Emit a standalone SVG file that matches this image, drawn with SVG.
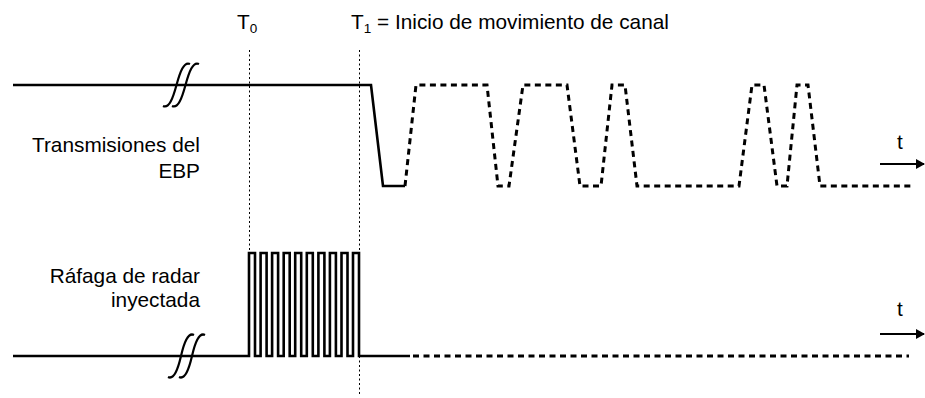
<svg xmlns="http://www.w3.org/2000/svg" width="925" height="398" viewBox="0 0 925 398">
<style>
.lbl{font-family:"Liberation Sans",Arial,sans-serif;font-size:20.8px;fill:#000}
.sub{font-family:"Liberation Sans",Arial,sans-serif;font-size:13.5px;fill:#000}
.solid{fill:none;stroke:#000;stroke-width:2.6;stroke-linejoin:miter}
.dash{fill:none;stroke:#000;stroke-width:3;stroke-dasharray:6 4.5}
.guide{fill:none;stroke:#000;stroke-width:1;stroke-dasharray:2 2.5}
.brk{fill:none;stroke:#000;stroke-width:2.2}
.arr{fill:none;stroke:#000;stroke-width:2.2}
</style>
<defs>
<marker id="ah" markerWidth="10" markerHeight="10" refX="8" refY="5" orient="auto" markerUnits="userSpaceOnUse">
<path d="M0,0 L9,5 L0,10 Z" fill="#000"/>
</marker>
</defs>
<g id="guides">
<line class="guide" x1="249.5" y1="50" x2="249.5" y2="253"/>
<line class="guide" x1="359.5" y1="50" x2="359.5" y2="396"/>
</g>
<g id="labels-time">
<text class="lbl" x="237" y="29">T<tspan class="sub" dy="4">0</tspan></text>
<text class="lbl" x="351" y="29">T<tspan class="sub" dy="4">1</tspan><tspan dy="-4"> = Inicio de movimiento de canal</tspan></text>
</g>
<g id="ebp">
<text class="lbl" x="200" y="152" text-anchor="end">Transmisiones del</text>
<text class="lbl" x="200" y="178" text-anchor="end">EBP</text>
<path class="solid" d="M13,85 L371,85 L383,186 L405,186"/>
<path class="dash" d="M405,186 L416,85 L487,85 L498,186 L509,186 L523,85 L567,85 L580,186 L601,186 L612,85 L625,85 L637,186 L739,186 L752,85 L764,85 L777,186 L787,186 L797,85 L808,85 L820,186 L912,186"/>
<path class="brk" d="M163,106 C169,109 173,98 176.5,85 C180,72 184,61 190,64"/>
<path class="brk" d="M172,106 C178,109 182,98 185.5,85 C189,72 193,61 199,64"/>
<text class="lbl" x="897" y="149">t</text>
<line class="arr" x1="880" y1="164" x2="924" y2="164" marker-end="url(#ah)"/>
</g>
<g id="radar">
<text class="lbl" x="200" y="283" text-anchor="end">Ráfaga de radar</text>
<text class="lbl" x="200" y="307" text-anchor="end">inyectada</text>
<path class="solid" d="M13,356 L249,356 L249,253 L255,253 L255,356 L260.6,356 L260.6,253 L266.6,253 L266.6,356 L272.1,356 L272.1,253 L278.1,253 L278.1,356 L283.7,356 L283.7,253 L289.7,253 L289.7,356 L295.2,356 L295.2,253 L301.2,253 L301.2,356 L306.8,356 L306.8,253 L312.8,253 L312.8,356 L318.4,356 L318.4,253 L324.4,253 L324.4,356 L329.9,356 L329.9,253 L335.9,253 L335.9,356 L341.5,356 L341.5,253 L347.5,253 L347.5,356 L353,356 L353,253 L359,253 L359,356 L410,356"/>
<path class="dash" d="M413,356 L909,356"/>
<path class="brk" d="M168,377 C174,380 178,369 181,356 C184,343 188,332 194,335"/>
<path class="brk" d="M179,377 C185,380 189,369 192,356 C195,343 199,332 205,335"/>
<text class="lbl" x="897" y="316">t</text>
<line class="arr" x1="880" y1="334" x2="924" y2="334" marker-end="url(#ah)"/>
</g>
</svg>
